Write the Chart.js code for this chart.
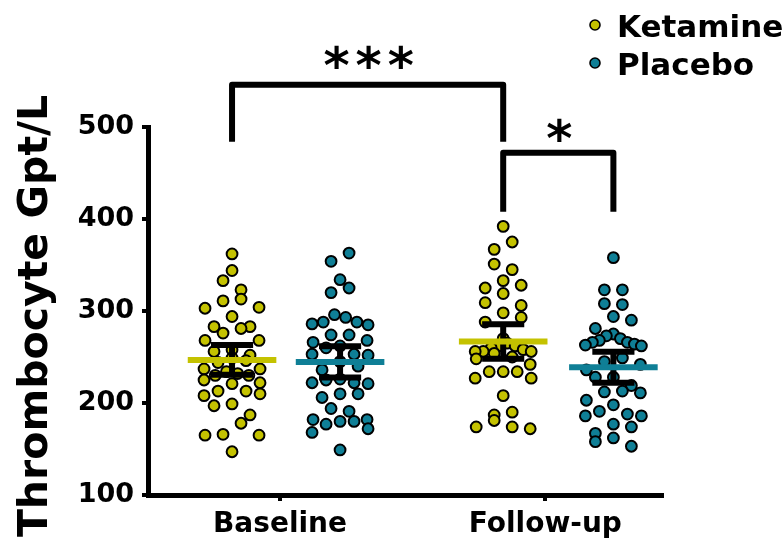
<!DOCTYPE html>
<html>
<head>
<meta charset="utf-8">
<script src="https://cdn.jsdelivr.net/npm/chart.js@4.4.1/dist/chart.umd.min.js"></script>
<style>
  html, body { margin: 0; padding: 0; background: #fff; }
  canvas { display: block; }
</style>
</head>
<body>
<canvas id="c" width="783" height="540"></canvas>
<script>
// Thrombocyte counts (Gpt/L), one value per participant
const categories = ['Baseline', 'Follow-up'];
const seriesNames = ['Ketamine', 'Placebo'];
const yTitle = 'Thrombocyte Gpt/L';
const yTicks = [100, 200, 300, 400, 500];

const baselineKetamine = [362, 344, 333, 323, 313, 311, 304, 303, 294, 283, 283, 281, 276, 268, 268,
  258, 256, 252, 249, 246, 244, 237, 237, 234, 232, 230, 230, 225, 222, 221, 213, 213, 210, 208,
  199, 197, 187, 178, 166, 165, 165, 147];
const baselinePlacebo = [363, 354, 334, 325, 320, 296, 293, 288, 288, 286, 285, 274, 274, 268, 266,
  262, 260, 253, 253, 252, 245, 240, 236, 226, 225, 222, 222, 221, 210, 210, 206, 194, 191, 182,
  182, 180, 180, 177, 172, 168, 149];
const followupKetamine = [392, 375, 367, 351, 345, 333, 328, 325, 319, 309, 306, 298, 293, 288, 270,
  265, 262, 262, 260, 258, 256, 256, 256, 254, 250, 248, 242, 234, 234, 234, 227, 227, 208, 190,
  187, 181, 174, 174, 172];
const followupPlacebo = [358, 323, 323, 308, 307, 294, 290, 281, 275, 273, 270, 268, 266, 266, 264,
  263, 262, 249, 245, 242, 236, 228, 228, 219, 213, 212, 211, 203, 198, 191, 188, 186, 186, 177,
  174, 167, 162, 158, 153];

// Pairwise comparisons: group indices and significance marks
const comparisons = [
  { from: 0, to: 2, mark: '***' },
  { from: 2, to: 3, mark: '*' }
];

// ---- layout & style ----
const KET = '#c4c200';
const PLA = '#0f7f96';
const FONT = '"DejaVu Sans", Verdana, sans-serif';
const groups = [
  { values: baselineKetamine, color: KET, series: 0, pos: 1.0 },
  { values: baselinePlacebo,  color: PLA, series: 1, pos: 2.0 },
  { values: followupKetamine, color: KET, series: 0, pos: 3.51 },
  { values: followupPlacebo,  color: PLA, series: 1, pos: 4.53 }
];
const categoryPos = [1.444, 3.90];
const MEAN_HALF = 0.41;
const CAP_HALF = 0.195;

function stats(vals) {
  const n = vals.length;
  const mean = vals.reduce((a, b) => a + b, 0) / n;
  const sd = Math.sqrt(vals.reduce((a, b) => a + (b - mean) * (b - mean), 0) / (n - 1));
  const ci = 2.02 * sd / Math.sqrt(n);
  return { mean, lo: mean - ci, hi: mean + ci };
}

const datasets = [];
groups.forEach((g) => {
  const s = stats(g.values);
  // mean bar (drawn on top)
  datasets.push({
    type: 'line', showLine: true, order: 0,
    data: [{ x: g.pos - MEAN_HALF, y: s.mean }, { x: g.pos + MEAN_HALF, y: s.mean }],
    borderColor: g.color, borderWidth: 6, pointRadius: 0, borderCapStyle: 'butt'
  });
  // 95% CI whiskers
  datasets.push({
    type: 'line', showLine: true, order: 1, spanGaps: false,
    data: [
      { x: g.pos - CAP_HALF, y: s.hi }, { x: g.pos + CAP_HALF, y: s.hi }, { x: g.pos, y: null },
      { x: g.pos, y: s.hi }, { x: g.pos, y: s.lo }, { x: g.pos + 0.001, y: null },
      { x: g.pos - CAP_HALF, y: s.lo }, { x: g.pos + CAP_HALF, y: s.lo }
    ],
    borderColor: '#000', borderWidth: 6, pointRadius: 0, borderCapStyle: 'butt'
  });
  // individual participants
  datasets.push({
    type: 'scatter', order: 2,
    label: seriesNames[g.series],
    data: g.values.map(v => ({ x: g.pos, y: v })),
    backgroundColor: g.color, borderColor: '#000', borderWidth: 2,
    pointRadius: 5.4, pointHoverRadius: 5.4
  });
});

// Row-binned scatter layout: values closer than `rowPx` share a row,
// and each row is spread sideways around the group centre.
function spread(vals, yPix, rowPx, gap, maxWidth) {
  const idx = vals.map((v, i) => i).sort((a, b) => vals[a] - vals[b]);
  const out = new Array(vals.length).fill(0);
  const rows = [];
  let cur = [];
  for (const i of idx) {
    if (cur.length && Math.abs(yPix(vals[cur[0]]) - yPix(vals[i])) >= rowPx) {
      rows.push(cur); cur = [];
    }
    cur.push(i);
  }
  if (cur.length) rows.push(cur);
  rows.forEach((row, r) => {
    const n = row.length;
    const s = n > 1 ? Math.min(gap, maxWidth / (n - 1)) : 0;
    // slots ordered from the centre outwards, alternating side per row
    const slots = [];
    for (let k = 0; k < n; k++) slots.push((k - (n - 1) / 2) * s);
    slots.sort((a, b) => Math.abs(a) - Math.abs(b) || (r % 2 ? b - a : a - b));
    row.slice().sort((a, b) => vals[b] - vals[a]).forEach((i, k) => { out[i] = slots[k]; });
  });
  return out;
}

const overlay = {
  id: 'overlay',
  afterDraw(chart) {
    const { ctx } = chart;
    const xs = chart.scales.x, ys = chart.scales.y;
    ctx.save();

    // y-axis title
    ctx.save();
    ctx.translate(36, 316);
    ctx.rotate(-Math.PI / 2);
    ctx.font = 'bold 41px ' + FONT;
    ctx.fillStyle = '#000';
    ctx.textAlign = 'center';
    ctx.textBaseline = 'middle';
    ctx.fillText(yTitle, 0, 0);
    ctx.restore();

    // significance brackets
    const levels = [
      { top: 546, bot1: 484, bot2: 484, markAt: 576 },
      { top: 472, bot1: 408, bot2: 408, markAt: 497 }
    ];
    ctx.strokeStyle = '#000';
    ctx.lineWidth = 6;
    ctx.lineJoin = 'round';
    ctx.lineCap = 'butt';
    ctx.fillStyle = '#000';
    comparisons.forEach((c, i) => {
      const L = levels[i];
      const x1 = xs.getPixelForValue(groups[c.from].pos);
      const x2 = xs.getPixelForValue(groups[c.to].pos);
      ctx.beginPath();
      ctx.moveTo(x1, ys.getPixelForValue(L.bot1));
      ctx.lineTo(x1, ys.getPixelForValue(L.top));
      ctx.lineTo(x2, ys.getPixelForValue(L.top));
      ctx.lineTo(x2, ys.getPixelForValue(L.bot2));
      ctx.stroke();

      ctx.font = 'bold 50px ' + FONT;
      ctx.letterSpacing = '6px';
      ctx.textAlign = 'left';
      ctx.textBaseline = 'alphabetic';
      const m = ctx.measureText(c.mark);
      const w = m.width - 6;
      const cy = ys.getPixelForValue(L.markAt);
      const base = cy + (m.actualBoundingBoxAscent - m.actualBoundingBoxDescent) / 2;
      ctx.fillText(c.mark, (x1 + x2) / 2 - w / 2 + 1, base);
      ctx.letterSpacing = '0px';
    });

    // legend
    const legendColors = [KET, PLA];
    const rows = [25, 63];
    ctx.font = 'bold 31px ' + FONT;
    ctx.textAlign = 'left';
    ctx.textBaseline = 'alphabetic';
    seriesNames.forEach((name, i) => {
      ctx.beginPath();
      ctx.arc(595, rows[i], 5, 0, Math.PI * 2);
      ctx.fillStyle = legendColors[i];
      ctx.fill();
      ctx.lineWidth = 1.6;
      ctx.strokeStyle = '#000';
      ctx.stroke();
      ctx.fillStyle = '#000';
      ctx.fillText(name, 617, rows[i] + 12);
    });
    ctx.restore();
  }
};

const axisGrid = {
  drawOnChartArea: false, drawTicks: true, tickLength: 6, tickWidth: 4,
  tickColor: '#000', color: '#000', lineWidth: 4
};
const axisBorder = { display: true, width: 5, color: '#000' };

const chart = new Chart(document.getElementById('c').getContext('2d'), {
  type: 'scatter',
  data: { datasets },
  options: {
    responsive: false,
    animation: false,
    devicePixelRatio: 1,
    events: [],
    layout: { padding: { left: 0, right: 121, top: 127, bottom: 0 } },
    plugins: { legend: { display: false }, tooltip: { enabled: false } },
    scales: {
      x: {
        type: 'linear', min: 0.222, max: 4.98,
        afterBuildTicks: s => { s.ticks = categoryPos.map(v => ({ value: v })); },
        afterFit: s => { s.height = 45; },
        ticks: {
          callback: (v, i) => categories[i],
          font: { family: FONT, size: 28, weight: 'bold' },
          color: '#000', padding: 7, maxRotation: 0, autoSkip: false
        },
        grid: axisGrid, border: axisBorder
      },
      y: {
        min: 100, max: 500,
        afterBuildTicks: s => { s.ticks = yTicks.map(v => ({ value: v })); },
        afterFit: s => { s.width = 148; },
        ticks: {
          font: { family: FONT, size: 27, weight: 'bold' },
          color: '#000', padding: 8
        },
        grid: axisGrid, border: axisBorder
      }
    }
  },
  plugins: [overlay]
});

// spread the dots of each group sideways
const ppu = chart.scales.x.getPixelForValue(1) - chart.scales.x.getPixelForValue(0);
const yPix = v => chart.scales.y.getPixelForValue(v);
groups.forEach((g, gi) => {
  const offs = spread(g.values, yPix, 12, 18, 56);
  const ds = datasets[gi * 3 + 2];
  ds.data.forEach((d, i) => { d.x = g.pos + offs[i] / ppu; });
});
chart.update();
</script>
</body>
</html>
